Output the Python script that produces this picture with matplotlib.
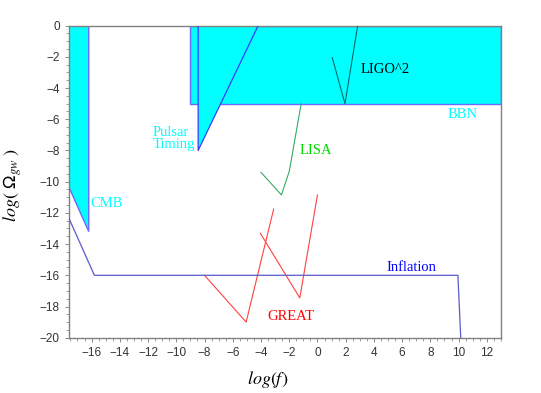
import matplotlib
matplotlib.use("Agg")
import matplotlib.pyplot as plt
from matplotlib.ticker import MultipleLocator, AutoMinorLocator

# sensitivity regions, log(f) vs log(Omega_gw)
cmb_f = [-17.6, -17.6, -16.2, -16.2]
cmb_y = [0.0, -10.35, -13.2, 0.0]

bbn_f = [-9.0, -9.0, 13.0, 13.0]
bbn_y = [0.0, -5.0, -5.0, 0.0]

pulsar_f = [-8.45, -8.45, -4.2]
pulsar_y = [0.0, -8.0, 0.0]

ligo_f = [1.05, 1.95, 2.85]
ligo_y = [-2.05, -5.0, 0.0]

lisa_f = [-4.0, -2.55, -2.0, -1.15]
lisa_y = [-9.4, -10.85, -9.35, -5.0]

great1_f = [-8.0, -5.05, -3.1]
great1_y = [-16.0, -19.0, -11.75]
great2_f = [-4.05, -1.25, 0.0]
great2_y = [-13.3, -17.45, -10.85]

infl_f = [-17.6, -15.8, 9.95, 10.15]
infl_y = [-12.35, -16.0, -16.0, -20.0]

plt.rcParams['mathtext.fontset'] = 'stix'

fig = plt.figure(figsize=(5.41, 3.93), dpi=100)
ax = fig.add_axes([0.1275, 0.1407, 0.7985, 0.794])

cyan = '#00ffff'
edge = '#6a6aff'

# filled regions
ax.fill(cmb_f, cmb_y, facecolor=cyan, edgecolor=edge, lw=1.0, zorder=1)
ax.fill(bbn_f, bbn_y, facecolor=cyan, edgecolor=edge, lw=1.0, zorder=1)
ax.fill(pulsar_f, pulsar_y, facecolor=cyan, edgecolor='none', zorder=2)
ax.plot(pulsar_f, pulsar_y, color='#3a3aff', lw=0.9, zorder=3)

# curves
ax.plot(ligo_f, ligo_y, color='#006a6a', lw=0.8, zorder=3)
ax.plot(lisa_f, lisa_y, color='#33aa66', lw=0.8, zorder=3)
ax.plot(great1_f, great1_y, color='#ff4040', lw=0.8, zorder=3)
ax.plot(great2_f, great2_y, color='#ff4040', lw=0.8, zorder=3)
ax.plot(infl_f, infl_y, color='#5a5acc', lw=0.9, zorder=3)

# labels
serif = dict(family='Liberation Serif', fontsize=10.5)
ax.text(-14.95, -11.4, 'CMB', color=cyan, ha='center', va='center', **serif)
ax.text(-11.65, -7.25, 'Pulsar\nTiming', color=cyan, ha='left', va='center',
        linespacing=0.9, **serif)
ax.text(10.3, -5.7, 'BBN', color=cyan, ha='center', va='center', **serif)
ax.text(-0.1, -8.0, 'LISA', color='#00dd00', ha='center', va='center', **serif)
ax.text(4.8, -2.8, 'LIGO^2', color='black', ha='center', va='center', **serif)
ax.text(6.65, -15.5, 'Inflation', color='#0000ff', ha='center', va='center', **serif)
ax.text(-1.9, -18.65, 'GREAT', color='#ff0000', ha='center', va='center', **serif)

ax.set_xlim(-17.6, 13)
ax.set_ylim(-20, 0)
ax.set_xticks(range(-16, 13, 2))
ax.yaxis.set_major_locator(MultipleLocator(2))
ax.xaxis.set_minor_locator(AutoMinorLocator(4))
ax.yaxis.set_minor_locator(AutoMinorLocator(4))
ax.tick_params(which='both', direction='out', color='#777777',
               labelsize=8.5, labelcolor='#333333')
ax.tick_params(which='major', length=3, width=0.6)
ax.tick_params(which='minor', length=2, width=0.5)
for lab in ax.get_xticklabels() + ax.get_yticklabels():
    lab.set_family('Liberation Sans')
for sp in ax.spines.values():
    sp.set_color('#808080')
    sp.set_linewidth(1.0)

ax.set_xlabel(r'$log(f)$', fontsize=13)
ax.set_ylabel(r'$log(\ \mathsf{\Omega}_{gw}\ )$', fontsize=13)
ax.xaxis.set_label_coords(0.46, -0.10)
ax.yaxis.set_label_coords(-0.105, 0.49)

fig.savefig('out.png', dpi=100)
